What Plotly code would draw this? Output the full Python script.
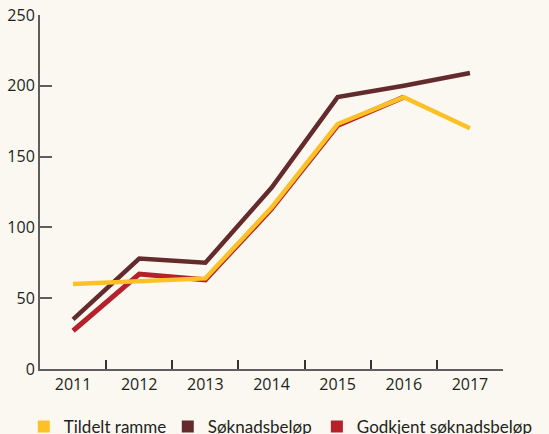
import plotly.graph_objects as go

years = ["2011", "2012", "2013", "2014", "2015", "2016", "2017"]
tildelt_ramme = [60, 62, 64, 114, 173, 192, 170]
soknadsbelop = [35, 78, 75, 128, 192, 200, 209]
godkjent_soknadsbelop = [27, 67, 63, 113, 172, 192, None]

names = ["Tildelt ramme", "Søknadsbeløp", "Godkjent søknadsbeløp"]
legend_ids = ["legend", "legend", "legend2"]
colors = {"Tildelt ramme": "#FDC125", "Søknadsbeløp": "#642B2D", "Godkjent søknadsbeløp": "#B5202B"}
bg = "#FBF8F2"
font = "Open Sans"

fig = go.Figure()
# draw order: brown, red, yellow on top
for name, vals, w in [("Søknadsbeløp", soknadsbelop, 4.5),
                      ("Godkjent søknadsbeløp", godkjent_soknadsbelop, 5),
                      ("Tildelt ramme", tildelt_ramme, 4.5)]:
    fig.add_trace(go.Scatter(x=years, y=vals, mode="lines", name=name,
                             line=dict(color=colors[name], width=w),
                             showlegend=False, hoverinfo="skip"))
# legend entries with square swatches
for name, lg in zip(names, legend_ids):
    fig.add_trace(go.Scatter(x=[None], y=[None], mode="markers", name=name,
                             marker=dict(symbol="square", size=12, color=colors[name]),
                             showlegend=True, legend=lg))

axis_col = "#5E5E5E"
legend_common = dict(orientation="h", xanchor="left", y=-0.164, yanchor="middle",
                     font=dict(family="Lato", size=17, color="#231F20"),
                     bgcolor="rgba(0,0,0,0)", itemwidth=30, tracegroupgap=0)
fig.update_layout(
    width=549, height=434,
    paper_bgcolor=bg, plot_bgcolor=bg,
    margin=dict(l=40, r=46, t=15, b=65, autoexpand=False),
    font=dict(family=font, size=16, color="#231F20"),
    showlegend=True,
    legend=dict(x=-0.035, entrywidth=99, **legend_common),
    legend2=dict(x=0.598, **legend_common),
    xaxis=dict(type="category", categoryorder="array", categoryarray=years,
               range=[-0.5, 6.5], showline=True, linecolor=axis_col, linewidth=2,
               ticks="inside", tickson="boundaries", ticklen=9, tickwidth=1.5,
               tickcolor="#333333", showgrid=False, zeroline=False,
               tickfont=dict(size=16)),
    yaxis=dict(range=[0, 250], dtick=50, tick0=0, showline=True, linecolor=axis_col,
               linewidth=2, ticks="inside", ticklen=12, tickwidth=1.5, tickcolor=axis_col,
               showgrid=False, zeroline=False, tickfont=dict(size=16)),
)

fig.write_html("out.html", config={"displayModeBar": False},
               post_script="document.body.style.margin='0';document.body.style.overflow='hidden';")
